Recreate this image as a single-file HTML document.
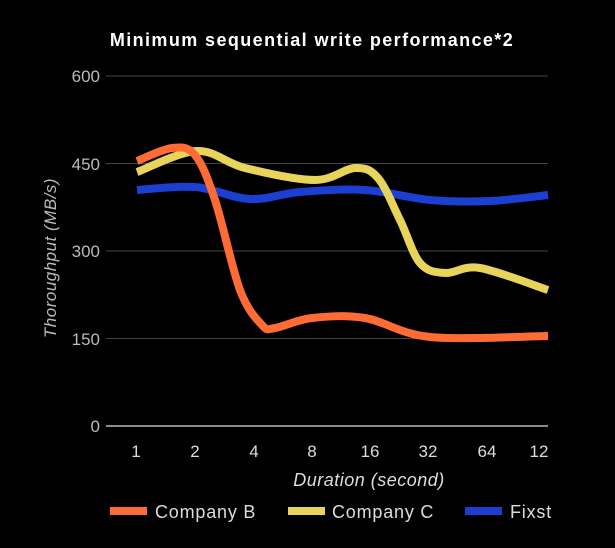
<!DOCTYPE html>
<html><head><meta charset="utf-8"><style>
html,body{margin:0;padding:0;background:#000;}
svg{display:block;}
text{font-family:"Liberation Sans","DejaVu Sans",sans-serif;}
</style></head><body>
<svg id="s" width="615" height="548" viewBox="0 0 615 548" xmlns="http://www.w3.org/2000/svg">
<rect width="615" height="548" fill="#000"/>
<text x="312" y="46" text-anchor="middle" fill="#fff" font-size="18" font-weight="bold" letter-spacing="1.4">Minimum sequential write performance*2</text>
<g stroke="#444" stroke-width="1">
<line x1="106" y1="76" x2="548" y2="76"/>
<line x1="106" y1="163.5" x2="548" y2="163.5"/>
<line x1="106" y1="251" x2="548" y2="251"/>
<line x1="106" y1="338.5" x2="548" y2="338.5"/>
</g>
<line x1="106" y1="426" x2="548" y2="426" stroke="#ddd" stroke-width="1.2"/>
<g fill="#bbb" font-size="17" text-anchor="end">
<text x="100" y="82">600</text><text x="100" y="170">450</text><text x="100" y="257">300</text><text x="100" y="345">150</text><text x="100" y="432">0</text>
</g>
<g fill="#ddd" font-size="17" text-anchor="middle">
<text x="136" y="457">1</text><text x="195" y="457">2</text><text x="254" y="457">4</text><text x="312" y="457">8</text><text x="370" y="457">16</text><text x="428" y="457">32</text><text x="487" y="457">64</text><text x="539" y="457">12</text>
</g>
<text x="369" y="486" text-anchor="middle" fill="#ddd" font-size="18" font-style="italic" letter-spacing="0.5">Duration (second)</text>
<text transform="translate(56,258) rotate(-90)" text-anchor="middle" fill="#bbb" font-size="17" font-style="italic" letter-spacing="0.5">Thoroughput (MB/s)</text>
<g id="lines" fill="none" stroke-width="8" stroke-linecap="butt"></g>
<rect x="110" y="507" width="37" height="8" fill="#ff6b35"/>
<text x="155" y="518" fill="#ddd" font-size="18" letter-spacing="0.8">Company B</text>
<rect x="288" y="507" width="37" height="8" fill="#e8d45a"/>
<text x="332" y="518" fill="#ddd" font-size="18" letter-spacing="0.8">Company C</text>
<rect x="465" y="507" width="37" height="8" fill="#1a3fd1"/>
<text x="510" y="518" fill="#ddd" font-size="18" letter-spacing="0.8">Fixst</text>
</svg>
<script>
function cr(p){var d="M"+p[0][0]+","+p[0][1];for(var i=0;i<p.length-1;i++){var a=p[i-1]||p[i],b=p[i],c=p[i+1],e=p[i+2]||c;d+=" C"+(b[0]+(c[0]-a[0])/6)+","+(b[1]+(c[1]-a[1])/6)+" "+(c[0]-(e[0]-b[0])/6)+","+(c[1]-(e[1]-b[1])/6)+" "+c[0]+","+c[1];}return d;}
var S=[["#1a3fd1",[[137,190],[195,187],[250,199],[300,192],[365,190],[430,200],[490,201],[548,195]]],
["#e8d45a",[[137,172],[197,151],[245,168],[315,180],[355,168],[378,178],[400,220],[420,263],[445,273],[480,268],[548,290]]],
["#ff6b35",[[137,161],[172,148],[195,155],[215,200],[240,290],[262,325],[275,328],[312,318],[365,318],[430,337],[548,336]]]];
var g=document.getElementById("lines");
S.forEach(function(s){var p=document.createElementNS("http://www.w3.org/2000/svg","path");p.setAttribute("d",cr(s[1]));p.setAttribute("stroke",s[0]);g.appendChild(p);});
</script>
</body></html>
